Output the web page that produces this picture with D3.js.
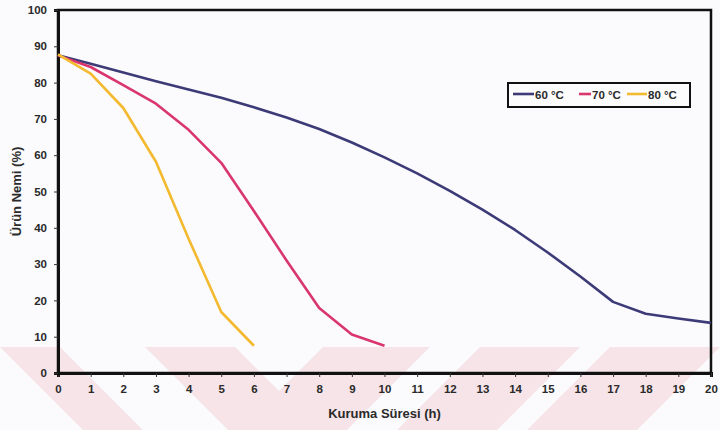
<!DOCTYPE html>
<html>
<head>
<meta charset="utf-8">
<script src="https://cdn.jsdelivr.net/npm/d3@7/dist/d3.min.js"></script>
<style>
  html, body { margin: 0; padding: 0; background: #fbfafc; }
  svg { display: block; font-family: "Liberation Sans", Arial, sans-serif; }
</style>
</head>
<body>
<svg id="chart" width="720" height="430"></svg>
<script>
// Drying time (h) and product moisture (%) at three drying temperatures
const hours60 = [0,1,2,3,4,5,6,7,8,9,10,11,12,13,14,15,16,17,18,19,20];
const moist60 = [87.5,85.2,82.8,80.4,78.1,75.8,73.2,70.4,67.2,63.5,59.4,55.0,50.2,45.0,39.4,33.2,26.6,19.6,16.3,15.0,13.8];
const hours70 = [0,1,2,3,4,5,6,7,8,9,10];
const moist70 = [87.5,84.3,79.3,74.2,67.0,57.9,44.6,31.0,17.9,10.6,7.5];
const hours80 = [0,1,2,3,4,5,6];
const moist80 = [87.8,82.5,73.0,58.2,37.0,16.8,7.5];
const seriesNames = ["60 °C", "70 °C", "80 °C"];
const seriesColors = ["#3c3b78", "#d9366d", "#f3b92f"];
const xTicks = d3.range(0, 21, 1);
const yTicks = d3.range(0, 101, 10);

const svg = d3.select("#chart");
const W = 720, H = 430;
const m = { left: 58, right: 9, top: 10, bottom: 57 };

// faint diagonal-band backdrop along the lower edge
const band = svg.append("g").attr("opacity", 0.6);
const bandTop = 347;
const pink = "#f4d6dc";
const slant = 83;
// left part: bands leaning down to the right
[[0, 60], [145, 235]].forEach(([a, b]) => {
  band.append("polygon")
    .attr("points", `${a},${bandTop} ${b},${bandTop} ${b + slant},${H} ${a + slant},${H}`)
    .attr("fill", pink);
});
band.append("polygon")
  .attr("points", `0,${bandTop} 0,${H} ${slant - 60},${H}`)
  .attr("fill", "none");
// right part: bands leaning down to the left
[[323, 430], [480, 580], [610, 720]].forEach(([a, b]) => {
  band.append("polygon")
    .attr("points", `${a},${bandTop} ${b},${bandTop} ${b - slant},${H} ${a - slant},${H}`)
    .attr("fill", pink);
});

const x = d3.scaleLinear().domain([0, 20]).range([m.left, W - m.right]);
const y = d3.scaleLinear().domain([0, 100]).range([H - m.bottom, m.top]);

// frame around the plot area
svg.append("rect")
  .attr("x", x(0)).attr("y", y(100))
  .attr("width", x(20) - x(0)).attr("height", y(0) - y(100))
  .attr("fill", "none").attr("stroke", "#111").attr("stroke-width", 2.5);

const xAxis = svg.append("g")
  .attr("transform", `translate(0,${y(0)})`)
  .call(d3.axisBottom(x).tickValues(xTicks).tickSize(4).tickPadding(8));
const yAxis = svg.append("g")
  .attr("transform", `translate(${x(0)},0)`)
  .call(d3.axisLeft(y).tickValues(yTicks).tickSize(4).tickPadding(7));

[xAxis, yAxis].forEach(a => {
  a.select(".domain").attr("stroke", "#111").attr("stroke-width", 3);
  a.selectAll(".tick line").attr("stroke", "#333").attr("stroke-width", 1);
  a.selectAll(".tick text")
    .attr("font-family", "Liberation Sans, Arial, sans-serif")
    .attr("font-size", 11.5).attr("font-weight", "bold").attr("fill", "#2a2a2a");
});

const line = d3.line().x(d => x(d[0])).y(d => y(d[1]));
const series = [
  d3.zip(hours60, moist60),
  d3.zip(hours70, moist70),
  d3.zip(hours80, moist80)
];
series.forEach((s, i) => {
  svg.append("path").datum(s)
    .attr("d", line)
    .attr("fill", "none")
    .attr("stroke", seriesColors[i])
    .attr("stroke-width", 2.6)
    .attr("stroke-linejoin", "round");
});

// axis titles
svg.append("text")
  .attr("x", (x(0) + x(20)) / 2).attr("y", 418)
  .attr("text-anchor", "middle")
  .attr("font-size", 13).attr("font-weight", "bold").attr("fill", "#2a2a2a")
  .text("Kuruma Süresi (h)");
svg.append("text")
  .attr("transform", `translate(21,${(y(0) + y(100)) / 2}) rotate(-90)`)
  .attr("text-anchor", "middle")
  .attr("font-size", 13).attr("font-weight", "bold").attr("fill", "#2a2a2a")
  .text("Ürün Nemi (%)");

// legend
const lg = svg.append("g").attr("transform", "translate(508,83)");
lg.append("rect").attr("width", 182).attr("height", 24)
  .attr("fill", "#fdfcfd").attr("stroke", "#111").attr("stroke-width", 2);
const entries = [
  { x1: 5, x2: 26, tx: 27 },
  { x1: 71, x2: 83, tx: 84 },
  { x1: 119, x2: 139, tx: 140 }
];
entries.forEach((e, i) => {
  lg.append("line").attr("x1", e.x1).attr("x2", e.x2).attr("y1", 11).attr("y2", 11)
    .attr("stroke", seriesColors[i]).attr("stroke-width", 2.6);
  lg.append("text").attr("x", e.tx).attr("y", 15.5)
    .attr("font-size", 11.5).attr("font-weight", "bold").attr("fill", "#2a2a2a")
    .text(seriesNames[i]);
});
</script>
</body>
</html>
